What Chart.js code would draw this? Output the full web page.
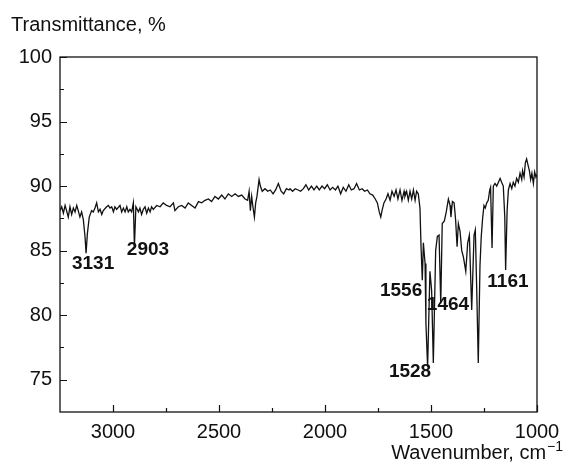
<!DOCTYPE html>
<html>
<head>
<meta charset="utf-8">
<script src="https://cdn.jsdelivr.net/npm/chart.js@4.4.1/dist/chart.umd.min.js"></script>
<style>
  html, body { margin: 0; padding: 0; background: #fff; }
  #wrap { width: 567px; height: 473px; }
</style>
</head>
<body>
<div id="wrap"><canvas id="myChart" width="567" height="473"></canvas></div>
<script>
// IR spectrum (wavenumber in cm-1, transmittance in %)
const wavenumbers = [
  3250, 3242, 3234, 3226, 3219, 3211, 3203, 3195, 3187, 3179, 3171, 3164, 3156, 3148, 3140,
  3132, 3127, 3121, 3112, 3101, 3093, 3085, 3077, 3069, 3061, 3053, 3046, 3030, 3022, 3014,
  3006, 2998, 2991, 2983, 2967, 2959, 2951, 2943, 2935, 2928, 2920, 2912, 2904, 2899, 2892,
  2880, 2873, 2865, 2857, 2849, 2841, 2833, 2825, 2818, 2810, 2794, 2778, 2763, 2747, 2731,
  2715, 2708, 2692, 2676, 2660, 2645, 2629, 2613, 2597, 2582, 2566, 2550, 2535, 2519, 2503,
  2487, 2472, 2456, 2440, 2424, 2409, 2393, 2377, 2365, 2358, 2352, 2346, 2340, 2333, 2327,
  2321, 2311, 2305, 2296, 2283, 2270, 2258, 2245, 2233, 2220, 2207, 2195, 2182, 2170, 2165,
  2153, 2140, 2127, 2115, 2102, 2090, 2077, 2064, 2052, 2039, 2027, 2014, 2002, 1989, 1976,
  1964, 1951, 1939, 1926, 1914, 1901, 1888, 1876, 1863, 1851, 1838, 1825, 1813, 1800, 1788,
  1775, 1763, 1753, 1744, 1737, 1731, 1722, 1712, 1703, 1693, 1684, 1674, 1665, 1656, 1646,
  1637, 1627, 1623, 1615, 1607, 1599, 1591, 1583, 1575, 1568, 1560, 1552, 1547, 1541, 1536,
  1528, 1524, 1516, 1505, 1497, 1489, 1478, 1470, 1462, 1454, 1447, 1437, 1428, 1418, 1410,
  1406, 1399, 1391, 1384, 1377, 1371, 1363, 1355, 1347, 1336, 1327, 1319, 1308, 1297, 1291,
  1285, 1277, 1269, 1263, 1256, 1250, 1244, 1237, 1230, 1223, 1219, 1212, 1206, 1198, 1190,
  1182, 1174, 1167, 1159, 1152, 1148, 1141, 1135, 1127, 1119, 1112, 1104, 1096, 1088, 1080,
  1072, 1068, 1061, 1055, 1049, 1042, 1036, 1030, 1024, 1017, 1011, 1005, 1000
];
const transmittance = [
  88.1, 88.4, 87.9, 88.5, 88.1, 87.6, 88.4, 87.8, 88.3, 88.0, 88.5, 88.1, 87.6, 88.0, 87.4,
  86.1, 84.8, 86.3, 87.6, 88.1, 88.0, 88.3, 88.7, 88.0, 88.2, 87.8, 88.1, 88.4, 88.5, 88.3,
  88.4, 88.0, 88.4, 88.2, 88.5, 88.0, 88.3, 88.0, 88.4, 88.0, 88.2, 88.0, 88.7, 85.3, 88.4,
  88.0, 88.3, 87.8, 88.2, 88.4, 87.9, 88.3, 88.0, 88.4, 88.2, 88.5, 88.4, 88.7, 88.5, 88.4,
  88.7, 88.1, 88.4, 88.5, 88.3, 88.7, 88.5, 88.3, 88.8, 88.7, 88.9, 89.0, 88.8, 89.2, 89.0,
  89.3, 89.0, 89.4, 89.2, 89.4, 89.2, 89.3, 89.0, 88.9, 89.6, 88.1, 89.2, 88.4, 87.6, 88.7,
  89.2, 90.5, 90.0, 89.6, 89.8, 89.6, 89.7, 89.4, 89.7, 90.2, 89.6, 89.4, 89.8, 89.7, 89.8,
  89.6, 89.8, 89.7, 89.6, 89.8, 90.1, 89.7, 90.0, 89.7, 90.0, 89.7, 90.0, 89.8, 90.1, 89.7,
  89.9, 89.7, 90.0, 89.4, 89.9, 89.6, 90.1, 89.7, 89.8, 90.2, 89.7, 89.8, 89.6, 89.7, 89.4,
  89.3, 89.0, 88.7, 88.0, 87.6, 88.1, 88.7, 89.0, 89.4, 88.9, 89.6, 89.2, 89.7, 89.0, 89.7,
  88.9, 89.6, 89.2, 89.6, 88.9, 89.6, 89.0, 89.7, 88.9, 89.6, 89.4, 88.3, 85.3, 82.7, 85.6,
  84.0, 79.4, 76.0, 83.4, 81.9, 76.3, 85.0, 86.1, 86.2, 80.9, 87.1, 87.3, 88.0, 89.0, 88.5,
  87.6, 88.8, 88.7, 87.4, 85.3, 87.1, 86.5, 85.0, 84.5, 83.4, 85.6, 86.2, 80.4, 86.2, 86.6,
  82.5, 76.3, 83.8, 86.1, 87.6, 88.5, 88.3, 88.7, 88.9, 89.7, 89.9, 85.2, 90.0, 90.2, 90.0,
  90.3, 90.6, 90.3, 90.0, 87.6, 83.5, 88.1, 89.7, 90.2, 89.8, 90.3, 90.0, 90.6, 90.3, 91.0,
  90.5, 91.2, 90.7, 91.8, 92.1, 91.6, 91.2, 90.5, 91.0, 90.2, 91.1, 90.7, 90.9
];

const xTicks = [1000, 1500, 2000, 2500, 3000];
const xMinorTicks = [1250, 1750, 2250, 2750];
const yTicks = [75, 80, 85, 90, 95, 100];
const yMinorTicks = [77.5, 82.5, 87.5, 92.5, 97.5];

// peak labels: text, and where its centre sits (wavenumber, transmittance)
const peakLabels = ["3131", "2903", "1556", "1528", "1464", "1161"];
const peakLabelX = [3094, 2835, 1641, 1599, 1420, 1137];
const peakLabelY = [84.0, 85.1, 81.9, 75.6, 80.8, 82.6];

const FONT = "'Liberation Sans', Arial, sans-serif";
const INK = "#111";

const framePlugin = {
  id: "frame",
  afterDraw: (chart) => {
    const ctx = chart.ctx;
    const area = chart.chartArea;
    const xs = chart.scales.x;
    const ys = chart.scales.y;

    ctx.save();
    ctx.strokeStyle = INK;
    ctx.lineWidth = 1.3;
    ctx.strokeRect(area.left, area.top, area.right - area.left, area.bottom - area.top);

    // ticks point inwards
    ctx.lineWidth = 1.2;
    ctx.beginPath();
    xTicks.forEach((v) => {
      const px = Math.round(xs.getPixelForValue(v)) + 0.5;
      ctx.moveTo(px, area.bottom);
      ctx.lineTo(px, area.bottom - 7);
    });
    xMinorTicks.forEach((v) => {
      const px = Math.round(xs.getPixelForValue(v)) + 0.5;
      ctx.moveTo(px, area.bottom);
      ctx.lineTo(px, area.bottom - 4);
    });
    yTicks.forEach((v) => {
      const py = Math.round(ys.getPixelForValue(v)) + 0.5;
      ctx.moveTo(area.left, py);
      ctx.lineTo(area.left + 7, py);
    });
    yMinorTicks.forEach((v) => {
      const py = Math.round(ys.getPixelForValue(v)) + 0.5;
      ctx.moveTo(area.left, py);
      ctx.lineTo(area.left + 4, py);
    });
    ctx.stroke();

    // peak labels
    ctx.fillStyle = INK;
    ctx.font = "bold 19px " + FONT;
    ctx.textAlign = "center";
    ctx.textBaseline = "middle";
    peakLabels.forEach((txt, i) => {
      ctx.fillText(txt, xs.getPixelForValue(peakLabelX[i]), ys.getPixelForValue(peakLabelY[i]));
    });

    // axis titles
    ctx.font = "20px " + FONT;
    ctx.textBaseline = "alphabetic";
    ctx.textAlign = "left";
    ctx.fillText("Transmittance, %", 11, 31);

    const right = 563;
    ctx.font = "14px " + FONT;
    const supW = ctx.measureText("\u22121").width;
    ctx.fillText("\u22121", right - supW, 451);
    ctx.font = "20px " + FONT;
    ctx.textAlign = "right";
    ctx.fillText("Wavenumber, cm", right - supW - 1, 459);
    ctx.restore();
  },
};

const ctx = document.getElementById("myChart").getContext("2d");
const myChart = new Chart(ctx, {
  type: "line",
  data: {
    datasets: [
      {
        data: wavenumbers.map((w, i) => ({ x: w, y: transmittance[i] })),
        borderColor: INK,
        borderWidth: 1.3,
        pointRadius: 0,
        tension: 0,
        fill: false,
      },
    ],
  },
  options: {
    responsive: false,
    animation: false,
    layout: { padding: { top: 57, right: 30, left: 0, bottom: 0 } },
    plugins: {
      legend: { display: false },
      tooltip: { enabled: false },
    },
    scales: {
      x: {
        type: "linear",
        reverse: true,
        min: 1000,
        max: 3250,
        afterBuildTicks: (scale) => {
          scale.ticks = xTicks.map((v) => ({ value: v }));
        },
        afterFit: (scale) => {
          scale.height = 61;
        },
        grid: { display: false, drawTicks: false },
        border: { display: false },
        ticks: {
          color: INK,
          font: { family: FONT, size: 20 },
          padding: 8,
          maxRotation: 0,
          callback: (v) => String(v),
        },
      },
      y: {
        min: 72.5,
        max: 100,
        afterBuildTicks: (scale) => {
          scale.ticks = yTicks.map((v) => ({ value: v }));
        },
        afterFit: (scale) => {
          scale.width = 60;
        },
        grid: { display: false, drawTicks: false },
        border: { display: false },
        ticks: {
          color: INK,
          font: { family: FONT, size: 20 },
          padding: 8,
          callback: (v) => String(v),
        },
      },
    },
  },
  plugins: [framePlugin],
});
</script>
</body>
</html>
